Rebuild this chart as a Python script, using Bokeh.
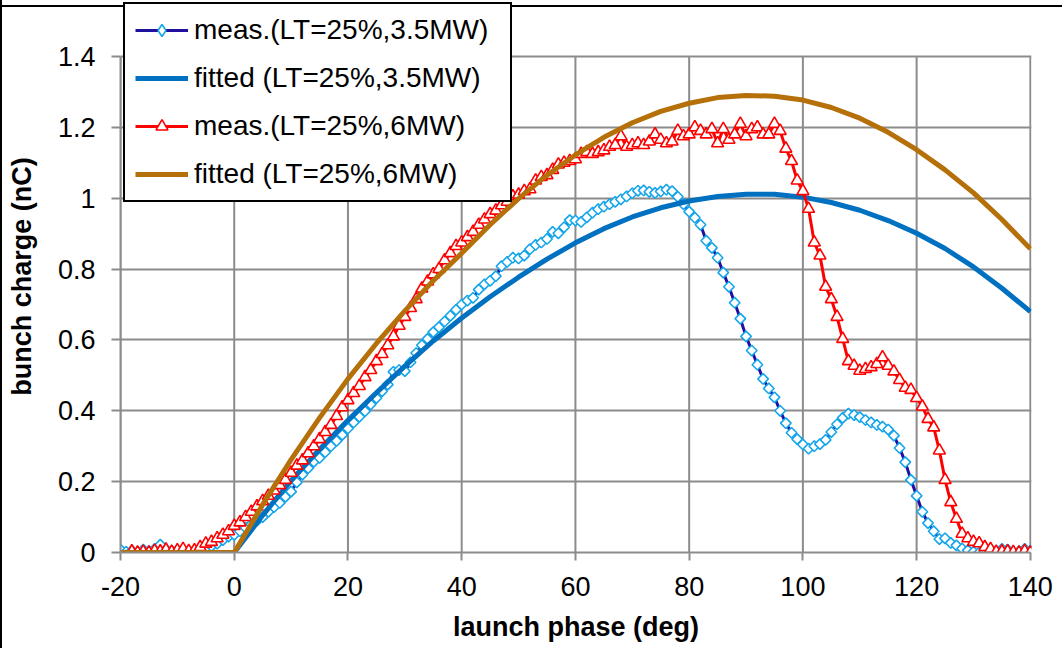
import math
from bokeh.plotting import figure
from bokeh.models import (Range1d, FixedTicker, CustomJSTickFormatter, Legend,
                          LegendItem)
from bokeh.embed import file_html
from bokeh.resources import INLINE

# ---------------- data ----------------
x_ticks = [-20, 0, 20, 40, 60, 80, 100, 120, 140]
y_ticks = [0, 0.2, 0.4, 0.6, 0.8, 1.0, 1.2, 1.4]

labels = ["meas.(LT=25%,3.5MW)", "fitted (LT=25%,3.5MW)",
          "meas.(LT=25%,6MW)", "fitted (LT=25%,6MW)"]

meas35_x = list(range(-20, 141))
meas35_y = [
    0.008, 0.002, 0.005, 0.000, 0.008, 0.004, 0.010, 0.022, 0.008, 0.004,
    0.006, 0.005, 0.003, 0.006, 0.008, 0.012, 0.018, 0.025, 0.035, 0.045,
    0.050, 0.060, 0.070, 0.080, 0.090, 0.100, 0.115, 0.128, 0.140, 0.157,
    0.172, 0.198, 0.220, 0.238, 0.256, 0.267, 0.283, 0.300, 0.315, 0.332,
    0.350, 0.367, 0.383, 0.399, 0.418, 0.436, 0.455, 0.474, 0.510, 0.515,
    0.512, 0.537, 0.563, 0.585, 0.603, 0.622, 0.636, 0.652, 0.668, 0.685,
    0.700, 0.711, 0.719, 0.742, 0.757, 0.767, 0.780, 0.808, 0.820, 0.832,
    0.830, 0.838, 0.856, 0.868, 0.875, 0.885, 0.905, 0.901, 0.918, 0.938,
    0.937, 0.933, 0.946, 0.959, 0.969, 0.976, 0.983, 0.990, 0.997, 1.005,
    1.014, 1.021, 1.022, 1.018, 1.015, 1.019, 1.024, 1.020, 1.004, 0.983,
    0.962, 0.945, 0.925, 0.880, 0.860, 0.832, 0.790, 0.750, 0.705, 0.660,
    0.610, 0.570, 0.530, 0.490, 0.463, 0.438, 0.400, 0.365, 0.338, 0.320,
    0.305, 0.293, 0.300, 0.306, 0.318, 0.340, 0.362, 0.380, 0.392, 0.388,
    0.382, 0.374, 0.367, 0.360, 0.355, 0.347, 0.330, 0.295, 0.255, 0.205,
    0.160, 0.115, 0.083, 0.060, 0.038, 0.040, 0.027, 0.020, 0.011, 0.006,
    0.002, 0.000, 0.002, 0.000, 0.003, 0.010, 0.008, 0.000, 0.003, 0.010,
    0.005,
]

meas6_x = list(range(-18, 141))
meas6_y = [
    0.003, 0.000, 0.002, 0.000, 0.005, 0.003, 0.008, 0.002, 0.006, 0.010,
    0.004, 0.006, 0.015, 0.025, 0.030, 0.040, 0.050, 0.060,
    0.075, 0.085, 0.100, 0.115, 0.130, 0.145, 0.160, 0.175, 0.190, 0.205,
    0.225, 0.245, 0.260, 0.280, 0.300, 0.320, 0.340, 0.360, 0.385, 0.410,
    0.430, 0.450, 0.470, 0.495, 0.515, 0.540, 0.560, 0.585, 0.610, 0.640,
    0.665, 0.690, 0.715, 0.745, 0.765, 0.785, 0.800, 0.825, 0.845, 0.865,
    0.875, 0.890, 0.905, 0.925, 0.940, 0.955, 0.965, 0.980, 0.990, 1.005,
    1.010, 1.020, 1.025, 1.050, 1.060, 1.065, 1.080, 1.095, 1.100, 1.105,
    1.110, 1.125, 1.130, 1.125, 1.130, 1.135, 1.145, 1.150, 1.175, 1.145,
    1.150, 1.155, 1.150, 1.160, 1.180, 1.165, 1.155, 1.160, 1.190, 1.175,
    1.180, 1.200, 1.190, 1.180, 1.195, 1.155, 1.195, 1.165, 1.180, 1.210,
    1.175, 1.195, 1.200, 1.180, 1.180, 1.210, 1.190, 1.140, 1.105, 1.050,
    1.020, 0.970, 0.875, 0.838, 0.750, 0.715, 0.665, 0.603, 0.540, 0.527,
    0.513, 0.518, 0.523, 0.532, 0.551, 0.527, 0.511, 0.487, 0.465, 0.459,
    0.436, 0.412, 0.377, 0.353, 0.288, 0.205, 0.142, 0.095, 0.053, 0.040,
    0.030, 0.026, 0.015, 0.010, 0.002, 0.003, 0.003, 0.001, 0.000, 0.004,
    0.000,
]

fit_x = [-20, 0, 5, 10, 15, 20, 25, 30, 35, 40, 45, 50, 55, 60, 65, 70,
         75, 80, 85, 90, 95, 100, 105, 110, 115, 120, 125, 130, 135, 140]
fit35_y = [0, 0, 0.105, 0.203, 0.291, 0.373, 0.451, 0.526, 0.597, 0.662,
           0.722, 0.777, 0.828, 0.874, 0.914, 0.947, 0.973, 0.992, 1.005,
           1.011, 1.011, 1.003, 0.988, 0.966, 0.937, 0.901, 0.858, 0.806,
           0.746, 0.680]
fit6_y = [0, 0, 0.135, 0.262, 0.380, 0.490, 0.590, 0.682, 0.767, 0.845,
          0.925, 0.999, 1.065, 1.122, 1.172, 1.213, 1.245, 1.268, 1.284,
          1.290, 1.288, 1.277, 1.256, 1.226, 1.186, 1.137, 1.080, 1.015,
          0.940, 0.857]

# ---------------- styling ----------------
FONT = "Liberation Sans"
GRID = "#8C8C8C"
DARK_BLUE = "#2010A0"
LIGHT_BLUE = "#15A5EA"
FIT_BLUE = "#0070C0"
RED = "#FF0000"
BROWN = "#B5700A"

Y_TOP = 1.4 * 552 / 496   # frame reaches the top of the canvas (room for legend)

p = figure(width=1062, height=648, output_backend="svg", toolbar_location=None,
           x_range=Range1d(-20, 140.2), y_range=Range1d(0, Y_TOP),
           min_border_left=120, min_border_right=31, min_border_top=0,
           min_border_bottom=96)
p.background_fill_alpha = 0
p.border_fill_alpha = 0
p.outline_line_color = None
# outer chart border: top and left edges
p.styles = {
    "background": "linear-gradient(#000, #000) 0 5px / 100% 2px no-repeat, "
                  "linear-gradient(#000, #000) 0 0 / 2px 100% no-repeat, #fff"
}

p.xaxis.ticker = FixedTicker(ticks=x_ticks)
p.yaxis.ticker = FixedTicker(ticks=y_ticks)
p.xaxis.formatter = CustomJSTickFormatter(code="return tick.toFixed(0);")
p.yaxis.formatter = CustomJSTickFormatter(code="return String(Number(tick.toFixed(1)));")
p.xaxis.bounds = (-20, 140)
p.yaxis.bounds = (0, 1.4)

for ax in (p.xaxis, p.yaxis):
    ax.axis_line_color = GRID
    ax.axis_line_width = 2
    ax.major_tick_line_color = GRID
    ax.major_tick_line_width = 2
    ax.minor_tick_line_color = None
    ax.major_tick_in = 0
    ax.major_label_text_font = FONT
    ax.major_label_text_font_size = "27px"
    ax.major_label_text_color = "black"
    ax.axis_label_text_font = FONT
    ax.axis_label_text_font_size = "27px"
    ax.axis_label_text_font_style = "bold"
    ax.axis_label_text_color = "black"

p.xaxis.major_tick_out = 8
p.yaxis.major_tick_out = 9
p.xaxis.major_label_standoff = 16
p.yaxis.major_label_standoff = 16
p.xaxis.axis_label = "launch phase (deg)"
p.yaxis.axis_label = "bunch charge (nC)"
p.xaxis.axis_label_standoff = 13
p.yaxis.axis_label_standoff = 18

# horizontal grid spans the x range; vertical grid stops at the top tick
p.xgrid.visible = False
p.ygrid.ticker = FixedTicker(ticks=y_ticks)
p.ygrid.grid_line_color = GRID
p.ygrid.grid_line_width = 2
p.segment(x0=x_ticks, y0=[y_ticks[0]] * len(x_ticks),
          x1=x_ticks, y1=[y_ticks[-1]] * len(x_ticks),
          line_color=GRID, line_width=2)

# ---------------- series ----------------
l1 = p.line(meas35_x, meas35_y, line_color=DARK_BLUE, line_width=3, line_join="round")
# legend key for the diamonds (legend glyphs are drawn unrotated); on the plot
# it is a tiny mark hidden under the rotated-square markers drawn next
m1_key = p.scatter(meas35_x, meas35_y, marker="diamond", size=0.1,
                   fill_color="white", line_color=LIGHT_BLUE, line_width=1.6)
m1 = p.scatter(meas35_x, meas35_y, marker="square", angle=math.pi / 4, size=7.5,
               fill_color="white", line_color=LIGHT_BLUE, line_width=1.6)
f1 = p.line(fit_x, fit35_y, line_color=FIT_BLUE, line_width=5, line_join="round")
l2 = p.line(meas6_x, meas6_y, line_color=RED, line_width=3, line_join="round")
m2 = p.scatter(meas6_x, meas6_y, marker="triangle", size=12,
               fill_color="white", line_color=RED, line_width=1.6)
f2 = p.line(fit_x, fit6_y, line_color=BROWN, line_width=5, line_join="round")

legend = Legend(items=[
    LegendItem(label=labels[0], renderers=[l1, m1_key]),
    LegendItem(label=labels[1], renderers=[f1]),
    LegendItem(label=labels[2], renderers=[l2, m2]),
    LegendItem(label=labels[3], renderers=[f2]),
], location=(3, 350), orientation="vertical")
legend.label_text_font = FONT
legend.label_text_font_size = "28px"
legend.label_text_color = "black"
legend.border_line_color = "black"
legend.border_line_width = 2
legend.border_line_alpha = 1
legend.background_fill_color = "white"
legend.background_fill_alpha = 1
legend.padding = 10
legend.spacing = 16
legend.margin = 0
legend.glyph_width = 53
legend.glyph_height = 30
legend.label_height = 20
legend.label_width = 306
legend.label_standoff = 6
p.add_layout(legend)

open("out.html", "w").write(file_html(p, INLINE))
